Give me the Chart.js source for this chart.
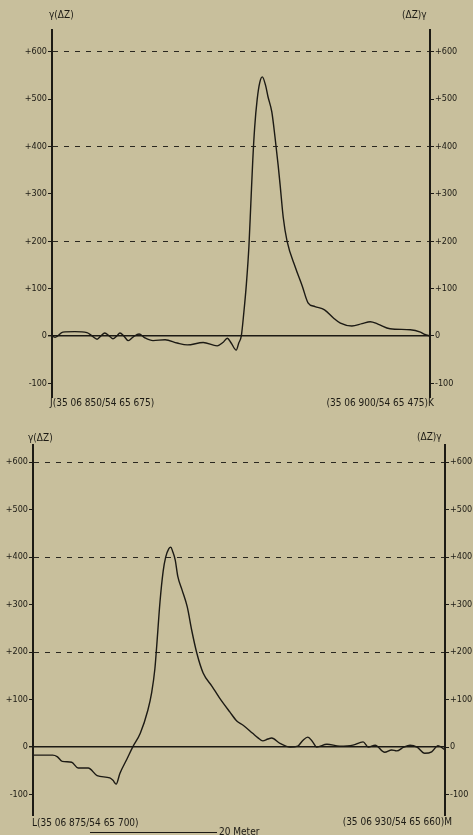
<!DOCTYPE html>
<html>
<head>
<meta charset="utf-8">
<script src="https://cdn.jsdelivr.net/npm/chart.js@4/dist/chart.umd.min.js"></script>
<style>
  html, body { margin: 0; padding: 0; }
  body {
    width: 473px; height: 835px; overflow: hidden; position: relative;
    background: #c8bf9c; color: #1c1a14;
    font-family: "DejaVu Sans Condensed", "DejaVu Sans", sans-serif;
  }
  canvas { position: absolute; left: 0; top: 0; }
  .lbl { position: absolute; font-size: 10px; line-height: 10px; white-space: nowrap; }
  .bar { position: absolute; border-top: 1px solid #1c1a14; height: 0; }
</style>
</head>
<body>
<canvas id="profilTop" width="473" height="835"></canvas>
<canvas id="profilBottom" width="473" height="835"></canvas>

<div class="lbl" style="left:49px;top:10px">γ(ΔZ)</div>
<div class="lbl" style="left:402px;top:10px">(ΔZ)γ</div>
<div class="lbl" style="left:50px;top:398px">J(35 06 850/54 65 675)</div>
<div class="lbl" style="right:39px;top:398px">(35 06 900/54 65 475)K</div>

<div class="lbl" style="left:28px;top:433px">γ(ΔZ)</div>
<div class="lbl" style="left:417px;top:432px">(ΔZ)γ</div>
<div class="lbl" style="left:32px;top:818px">L(35 06 875/54 65 700)</div>
<div class="lbl" style="right:21px;top:817px">(35 06 930/54 65 660)M</div>
<div class="bar" style="left:90px;top:832px;width:127px"></div>
<div class="lbl" style="left:219px;top:827px">20 Meter</div>

<script>
// Profil J-K (oben): Abstand in Meter, Anomalie gamma(dZ)
const topDist = [0, 0.5, 1.7, 3.6, 5.5, 6.3, 7.1, 7.7, 8.3, 9.0, 9.6, 10.2, 10.7, 11.3, 12.0, 12.8,
  13.7, 14.6, 15.9, 17.8, 19.7, 21.3, 23.8, 26.0, 26.9, 27.6, 28.2, 29.0, 29.4, 29.8, 30.2, 30.6,
  31.0, 31.3, 31.6, 31.9, 32.3, 32.7, 33.1, 33.6, 34.0, 34.6, 35.1, 35.6, 35.9, 36.4, 37.0, 38.3,
  39.4, 40.3, 41.4, 42.9, 44.3, 45.4, 47.2, 48.8, 50.1, 51.3, 53.2, 56.4, 58.0, 58.7, 59.5];
const topVal = [0, -3, 8, 9, 7, 0, -7, 0, 6, 0, -6, 0, 6, 0, -10, -2,
  4, -4, -10, -8, -15, -19, -14, -21, -14, -5, -15, -30, -15, 0, 50, 110,
  190, 280, 370, 440, 500, 535, 547, 530, 505, 473, 420, 360, 320, 250, 200, 145,
  105, 70, 62, 55, 38, 27, 21, 26, 30, 25, 15, 13, 8, 3, 0];

// Profil L-M (unten)
const botDist = [0, 3.1, 3.8, 4.6, 6.1, 7.1, 8.7, 10.1, 12.1, 12.6, 13.1, 13.7, 14.8, 15.7, 16.9,
  18.1, 18.7, 19.2, 19.5, 20.0, 20.5, 20.9, 21.4, 21.7, 22.0, 22.4, 22.8, 23.5, 24.3, 25.0, 25.8,
  26.8, 28.2, 29.4, 31.0, 32.1, 33.1, 34.6, 35.4, 36.2, 37.0, 37.6, 38.9, 40.5, 41.7, 42.5, 43.3,
  44.0, 44.7, 46.3, 48.3, 50.4, 52.0, 52.8, 53.9, 55.4, 56.5, 57.3, 58.4, 59.4, 60.5, 61.7, 62.8,
  63.8, 64.9];
const botVal = [-17, -17, -20, -30, -32, -44, -44, -60, -65, -70, -78, -55, -25, 0, 29,
  78, 115, 165, 215, 305, 370, 400, 418, 421, 412, 394, 360, 330, 295, 246, 198,
  156, 128, 103, 74, 55, 46, 29, 20, 13, 17, 19, 8, 0, 2, 14, 21,
  12, 0, 6, 2, 4, 11, 0, 4, -11, -6, -8, 0, 4, 0, -13, -10,
  3, -6];

const tickValues = [-100, 0, 100, 200, 300, 400, 500, 600];
const dashLevels = [200, 400, 600];

const INK = "#1c1a14";

function tickLabel(v) {
  return v > 0 ? "+" + v : String(v);
}

function makeProfile(id, dist, vals, p) {
  const ctx = document.getElementById(id).getContext("2d");
  const yCommon = {
    min: p.min,
    max: p.max,
    afterBuildTicks: (axis) => {
      axis.ticks = tickValues.map((v) => ({ value: v }));
    },
    ticks: {
      callback: tickLabel,
      color: INK,
      padding: 1,
      font: { family: "'DejaVu Sans Condensed', 'DejaVu Sans'", size: 9 },
    },
    border: { color: INK, width: 2 },
  };

  return new Chart(ctx, {
    type: "line",
    data: {
      datasets: [
        {
          data: dist.map((d, i) => ({ x: d, y: vals[i] })),
          borderColor: INK,
          borderWidth: 1.4,
          pointRadius: 0,
          cubicInterpolationMode: "monotone",
          fill: false,
        },
      ],
    },
    options: {
      responsive: false,
      animation: false,
      devicePixelRatio: 1,
      layout: { padding: { left: 0, right: 0, top: p.top, bottom: p.bottom } },
      plugins: { legend: { display: false }, tooltip: { enabled: false } },
      scales: {
        x: { type: "linear", min: 0, max: p.length, display: false },
        y: {
          ...yCommon,
          position: "left",
          afterFit: (axis) => { axis.width = p.left; },
          grid: {
            color: (c) => {
              const v = c.tick ? c.tick.value : null;
              if (v === 0) return INK;
              return dashLevels.includes(v) ? "#2a271f" : "rgba(0,0,0,0)";
            },
            lineWidth: (c) => (c.tick && c.tick.value === 0 ? 1.4 : 1),
            tickColor: INK,
            tickLength: 4,
          },
          border: {
            color: INK,
            width: 2,
            dash: (c) => (c.tick && c.tick.value === 0 ? [] : [5, 6]),
          },
        },
        y2: {
          ...yCommon,
          position: "right",
          afterFit: (axis) => { axis.width = p.right; },
          grid: { drawOnChartArea: false, tickColor: INK, tickLength: 4 },
        },
      },
    },
  });
}

document.addEventListener("DOMContentLoaded", () => {
  makeProfile("profilTop", topDist, topVal, {
    length: 59.5, min: -129, max: 646,
    left: 52, right: 43, top: 30, bottom: 438,
  });
  makeProfile("profilBottom", botDist, botVal, {
    length: 64.9, min: -143, max: 636,
    left: 33, right: 28, top: 445, bottom: 20,
  });
});
</script>
</body>
</html>
